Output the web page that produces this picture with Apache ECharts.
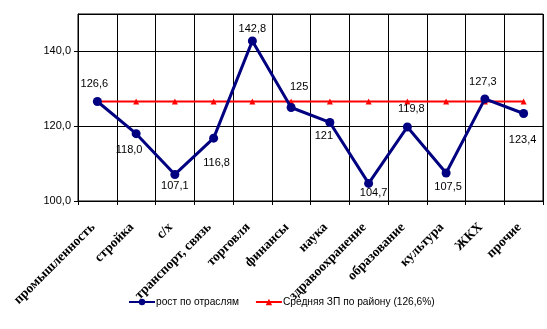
<!DOCTYPE html>
<html>
<head>
<meta charset="utf-8">
<script src="https://cdn.jsdelivr.net/npm/echarts@6/dist/echarts.min.js"></script>
<style>
html, body { margin: 0; padding: 0; background: #fff; }
#main { width: 547px; height: 329px; }
</style>
</head>
<body>
<div id="main"></div>
<script>
var categories = ['промышленность', 'стройка', 'с/х', 'транспорт, связь', 'торговля', 'финансы',
	'наука', 'здравоохранение', 'образование', 'культура', 'ЖКХ', 'прочие'];
var growthValues = [126.6, 118.0, 107.1, 116.8, 142.8, 125, 121, 104.7, 119.8, 107.5, 127.3, 123.4];
var growthLabels = ['126,6', '118,0', '107,1', '116,8', '142,8', '125', '121', '104,7', '119,8', '107,5', '127,3', '123,4'];
var avgValues = [126.6, 126.6, 126.6, 126.6, 126.6, 126.6, 126.6, 126.6, 126.6, 126.6, 126.6, 126.6];
// сдвиг подписей относительно точки
var labelOffsets = [[-3, -18], [-7, 16], [0, 12], [3, 25], [0, -12], [8, -21],
	[-6, 14], [5, 10], [4, -18], [2, 14], [-2, -17], [-1, 26]];

var growthData = [];
for (var i = 0; i < growthValues.length; i++) {
	growthData.push({
		value : growthValues[i],
		label : {
			show : true,
			position : 'inside',
			offset : labelOffsets[i],
			formatter : growthLabels[i]
		}
	});
}

var myChart = echarts.init(document.getElementById('main'));
var option = {
	animation : false,
	grid : {
		left : 78,
		top : 14,
		right : 4,
		bottom : 128,
		show : true,
		borderColor : '#000',
		borderWidth : 1
	},
	legend : {
		bottom : 17,
		left : 123,
		itemWidth : 26,
		itemHeight : 8,
		itemGap : 16,
		textStyle : {
			fontFamily : 'Arial, "Liberation Sans"',
			fontSize : 10.2,
			color : '#000',
			padding : [0, 0, 0, -4]
		},
		data : ['рост по отраслям', 'Средняя ЗП по району (126,6%)']
	},
	xAxis : {
		type : 'category',
		data : categories,
		boundaryGap : true,
		axisLine : { lineStyle : { color : '#000', width : 1 } },
		axisTick : { show : true, length : 4, lineStyle : { color : '#000' } },
		splitLine : { show : true, lineStyle : { color : '#000', width : 1 } },
		axisLabel : {
			interval : 0,
			rotate : 45,
			margin : 20,
			padding : [0, 6, 0, 0],
			fontFamily : '"Liberation Serif", "Times New Roman", serif',
			fontWeight : 'bold',
			fontSize : 13.5,
			color : '#000'
		}
	},
	yAxis : {
		type : 'value',
		min : 100,
		max : 150,
		interval : 20,
		axisLine : { show : true, lineStyle : { color : '#000', width : 1 } },
		axisTick : { show : true, length : 4, lineStyle : { color : '#000' } },
		splitLine : { show : true, lineStyle : { color : '#000', width : 1 } },
		axisLabel : {
			showMaxLabel : false,
			margin : 7,
			fontFamily : 'Arial, "Liberation Sans"',
			fontSize : 11,
			color : '#000',
			formatter : function(v) {
				return v.toFixed(1).replace('.', ',');
			}
		}
	},
	series : [
		{
			name : 'Средняя ЗП по району (126,6%)',
			type : 'line',
			data : avgValues,
			symbol : 'triangle',
			symbolSize : 6,
			lineStyle : { color : '#ff0000', width : 2 },
			itemStyle : { color : '#ff0000' },
			z : 2
		},
		{
			name : 'рост по отраслям',
			type : 'line',
			data : growthData,
			symbol : 'circle',
			symbolSize : 9,
			lineStyle : { color : '#000080', width : 3 },
			itemStyle : { color : '#000080' },
			label : {
				fontFamily : 'Arial, "Liberation Sans"',
				fontSize : 11,
				color : '#000'
			},
			z : 3
		}
	]
};
myChart.setOption(option);
</script>
</body>
</html>
